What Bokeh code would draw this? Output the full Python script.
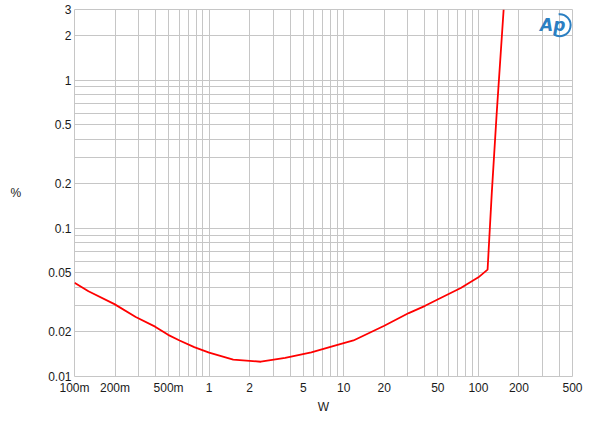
import math
from bokeh.plotting import figure
from bokeh.models import FixedTicker, Label
from bokeh.embed import file_html
from bokeh.resources import INLINE

power_w = [0.1, 0.127, 0.198, 0.285, 0.397, 0.496, 0.603, 0.775, 1.0, 1.51, 2.42,
           3.67, 5.74, 8.46, 11.8, 20, 30.4, 40.2, 50.2, 74, 90, 100, 117,
           125.7, 136.6, 154]
thd_pct = [0.0430, 0.0376, 0.0308, 0.0252, 0.0217, 0.0191, 0.0175, 0.0158, 0.0145,
           0.0130, 0.01258, 0.01335, 0.01455, 0.0161, 0.0175, 0.0220, 0.0268, 0.0300,
           0.0332, 0.0396, 0.0441, 0.0467, 0.0526, 0.173, 0.589, 3.0]

x_ticks = [0.1, 0.2, 0.5, 1, 2, 5, 10, 20, 50, 100, 200, 500]
x_tick_labels = ["100m", "200m", "500m", "1", "2", "5", "10", "20", "50", "100", "200", "500"]
y_ticks = [0.01, 0.02, 0.05, 0.1, 0.2, 0.5, 1, 2, 3]
y_tick_labels = ["0.01", "0.02", "0.05", "0.1", "0.2", "0.5", "1", "2", "3"]

x_minor = [m * 10.0 ** e for e in range(-1, 3) for m in range(1, 10) if m * 10.0 ** e <= 500]
y_minor = [m * 10.0 ** e for e in range(-2, 1) for m in range(1, 10)] + [1, 2, 3]

FONT = "Liberation Sans"
GRID = "#c6c6c6"
TXT = "#1a1a1a"
LOGO = "#2b7fc2"

p = figure(width=584, height=416, x_axis_type="log", y_axis_type="log",
           x_range=(0.1, 500), y_range=(0.01, 3),
           output_backend="svg", toolbar_location=None,
           min_border_left=74, min_border_right=12, min_border_top=9, min_border_bottom=38)

p.xaxis.ticker = FixedTicker(ticks=x_ticks, minor_ticks=x_minor)
p.yaxis.ticker = FixedTicker(ticks=y_ticks, minor_ticks=y_minor)
p.xaxis.major_label_overrides = {t: l for t, l in zip(x_ticks, x_tick_labels)}
p.yaxis.major_label_overrides = {t: l for t, l in zip(y_ticks, y_tick_labels)}

for ax in (p.xaxis, p.yaxis):
    ax.axis_line_color = None
    ax.major_tick_line_color = None
    ax.minor_tick_line_color = None
    ax.major_tick_out = 0
    ax.major_tick_in = 0
    ax.minor_tick_out = 0
    ax.minor_tick_in = 0
    ax.major_label_text_font = FONT
    ax.major_label_text_font_size = "12px"
    ax.major_label_text_color = TXT
    ax.axis_label_text_font = FONT
    ax.axis_label_text_font_size = "12px"
    ax.axis_label_text_font_style = "normal"
    ax.axis_label_text_color = TXT
p.xaxis.major_label_standoff = 4
p.yaxis.major_label_standoff = 3
p.xaxis.axis_label = "W"
p.xaxis.axis_label_standoff = 2
p.yaxis.axis_label = "%"
p.yaxis.axis_label_standoff = 24
try:
    p.yaxis.axis_label_orientation = "horizontal"
except Exception:
    pass

for g in (p.xgrid, p.ygrid):
    g.grid_line_color = GRID
    g.grid_line_width = 1
    g.minor_grid_line_color = GRID
    g.minor_grid_line_width = 1
p.outline_line_color = GRID
p.background_fill_color = "white"
p.border_fill_color = "white"

p.line(power_w, thd_pct, line_color="#ff0000", line_width=1.8)

# Audio Precision logo
p.arc(x=[401], y=[2.35], radius=11, radius_units="screen",
      start_angle=math.radians(-120), end_angle=math.radians(95),
      line_color=LOGO, line_width=2)
logo = Label(x=356, y=2.35, text="Ap", text_font="DejaVu Sans", text_font_size="17px",
             text_font_style="bold italic", text_color=LOGO,
             text_align="center", text_baseline="middle")
p.add_layout(logo)

open("out.html", "w").write(file_html(p, INLINE))
